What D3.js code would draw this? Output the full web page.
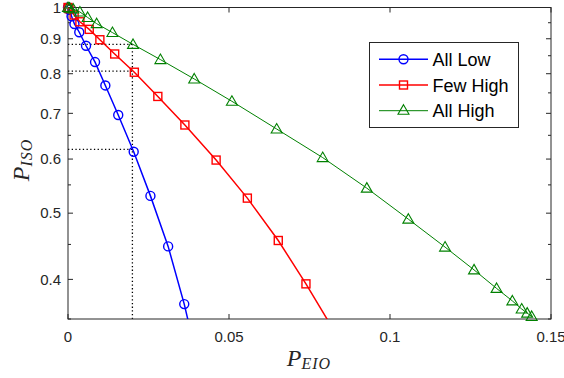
<!DOCTYPE html>
<html><head><meta charset="utf-8">
<script src="https://cdn.jsdelivr.net/npm/d3@7"></script>
<style>body{margin:0;background:#fff}</style>
</head><body>
<svg id="c" width="564" height="378"></svg>
<script>
const seriesNames = ["All Low", "Few High", "All High"];
const allLowX = [0, 0.0004, 0.0011, 0.0020, 0.0035, 0.0056, 0.0084, 0.0116, 0.0156, 0.0204, 0.0256, 0.0311, 0.0361, 0.0405];
const allLowY = [1.0, 0.992, 0.971, 0.946, 0.920, 0.879, 0.832, 0.769, 0.696, 0.615, 0.530, 0.447, 0.368, 0.300];
const fewHighX = [0, 0.0003, 0.0019, 0.0037, 0.0066, 0.0099, 0.0145, 0.0206, 0.0279, 0.0363, 0.0460, 0.0557, 0.0653, 0.0739, 0.0814];
const fewHighY = [1.0, 0.996, 0.975, 0.953, 0.929, 0.897, 0.855, 0.804, 0.741, 0.673, 0.598, 0.526, 0.456, 0.394, 0.344];
const allHighX = [0, 0.0005, 0.0016, 0.0037, 0.0061, 0.0089, 0.0138, 0.0202, 0.0287, 0.0392, 0.0509, 0.0648, 0.0791, 0.0928, 0.1057, 0.1171, 0.1261, 0.1331, 0.1380, 0.1409, 0.1426, 0.1440];
const allHighY = [1.0, 0.998, 0.995, 0.985, 0.967, 0.947, 0.919, 0.883, 0.839, 0.786, 0.729, 0.664, 0.603, 0.544, 0.490, 0.446, 0.413, 0.388, 0.372, 0.362, 0.357, 0.353];
const xTicks = [0, 0.05, 0.1, 0.15];
const xTickLabels = ["0", "0.05", "0.1", "0.15"];
const yTicks = [0.4, 0.5, 0.6, 0.7, 0.8, 0.9, 1];
const yTickLabels = ["0.4", "0.5", "0.6", "0.7", "0.8", "0.9", "1"];
const yMinorTicks = [0.35, 0.45, 0.55, 0.65, 0.75, 0.85, 0.95];
const refX = 0.02;
const refY = [0.883, 0.807, 0.62];

const L = 68, R = 551, T = 7.5, B = 319;
const svg = d3.select("#c");
const x = d3.scaleLinear().domain([0, 0.15]).range([L, R]);
const y = d3.scaleLog().domain([0.35, 1]).range([B, T]);
const axisCol = "#262626";
const tickFont = "Liberation Sans, Arial, Helvetica, sans-serif";

svg.append("defs").append("clipPath").attr("id", "pa")
  .append("rect").attr("x", L).attr("y", T).attr("width", R - L).attr("height", B - T);

// dotted guides
const g0 = svg.append("g").attr("stroke", "#000").attr("stroke-width", 1.3)
  .attr("stroke-dasharray", "1.3,2.4").attr("fill", "none");
g0.append("line").attr("x1", x(refX)).attr("x2", x(refX)).attr("y1", y(0.35)).attr("y2", y(d3.max(refY)));
refY.forEach(v => g0.append("line").attr("x1", x(0)).attr("x2", x(refX)).attr("y1", y(v)).attr("y2", y(v)));

// axes box
const box = svg.append("g");
box.append("rect").attr("x", L).attr("y", T).attr("width", R - L).attr("height", B - T)
  .attr("fill", "none").attr("stroke", axisCol).attr("stroke-width", 1);

// ticks (inward, mirrored)
const tk = svg.append("g").attr("stroke", axisCol).attr("stroke-width", 1);
xTicks.forEach(v => {
  tk.append("line").attr("x1", x(v)).attr("x2", x(v)).attr("y1", B).attr("y2", B - 5);
  tk.append("line").attr("x1", x(v)).attr("x2", x(v)).attr("y1", T).attr("y2", T + 5);
});
yTicks.forEach(v => {
  tk.append("line").attr("x1", L).attr("x2", L + 5).attr("y1", y(v)).attr("y2", y(v));
  tk.append("line").attr("x1", R).attr("x2", R - 5).attr("y1", y(v)).attr("y2", y(v));
});
yMinorTicks.forEach(v => {
  tk.append("line").attr("x1", L).attr("x2", L + 3).attr("y1", y(v)).attr("y2", y(v));
  tk.append("line").attr("x1", R).attr("x2", R - 3).attr("y1", y(v)).attr("y2", y(v));
});

// tick labels
const tl = svg.append("g").attr("fill", axisCol).attr("font-family", tickFont).attr("font-size", 15);
xTicks.forEach((v, i) => tl.append("text").attr("x", x(v)).attr("y", 342).attr("text-anchor", "middle").text(xTickLabels[i]));
yTicks.forEach((v, i) => tl.append("text").attr("x", L - 7).attr("y", y(v) + 5.3).attr("text-anchor", "end").text(yTickLabels[i]));

// axis labels
const serif = "Liberation Serif, Times New Roman, serif";
const xl = svg.append("text").attr("x", 309).attr("y", 366).attr("text-anchor", "middle")
  .attr("font-family", serif).attr("font-style", "italic").attr("fill", axisCol);
xl.append("tspan").attr("font-size", 24).text("P");
xl.append("tspan").attr("font-size", 16).attr("dy", 3).attr("letter-spacing", 1).text("EIO");
const yl = svg.append("text").attr("transform", "translate(29,160) rotate(-90)").attr("text-anchor", "middle")
  .attr("font-family", serif).attr("font-style", "italic").attr("fill", axisCol);
yl.append("tspan").attr("font-size", 24).text("P");
yl.append("tspan").attr("font-size", 16).attr("dy", 3).attr("letter-spacing", 1).text("ISO");

// series
const series = [
  {name: seriesNames[0], xs: allLowX, ys: allLowY, color: "#0000ff", w: 1.5, marker: "circle"},
  {name: seriesNames[1], xs: fewHighX, ys: fewHighY, color: "#ff0000", w: 1.5, marker: "square"},
  {name: seriesNames[2], xs: allHighX, ys: allHighY, color: "#008000", w: 1, marker: "triangle"}
];
function drawMarker(g, type, cx, cy, color) {
  if (type === "circle") {
    g.append("circle").attr("cx", cx).attr("cy", cy).attr("r", 4.5)
      .attr("fill", "none").attr("stroke", color).attr("stroke-width", 1.4);
  } else if (type === "square") {
    g.append("rect").attr("x", cx - 4).attr("y", cy - 4).attr("width", 8).attr("height", 8)
      .attr("fill", "none").attr("stroke", color).attr("stroke-width", 1.4);
  } else {
    g.append("path").attr("d", `M${cx},${cy - 5.5}L${cx + 5.5},${cy + 4}L${cx - 5.5},${cy + 4}Z`)
      .attr("fill", "none").attr("stroke", color).attr("stroke-width", 1.1);
  }
}
const line = d3.line().x(d => x(d[0])).y(d => y(d[1]));
series.forEach(s => {
  const pts = s.xs.map((v, i) => [v, s.ys[i]]);
  svg.append("path").datum(pts).attr("d", line).attr("fill", "none")
    .attr("stroke", s.color).attr("stroke-width", s.w).attr("clip-path", "url(#pa)");
  const mg = svg.append("g");
  pts.filter(p => p[1] >= 0.35).forEach(p => drawMarker(mg, s.marker, x(p[0]), y(p[1]), s.color));
});

// legend
const lg = svg.append("g");
lg.append("rect").attr("x", 369.5).attr("y", 42.5).attr("width", 149).attr("height", 85)
  .attr("fill", "#fff").attr("stroke", axisCol).attr("stroke-width", 1);
const legY = [59.3, 85, 110.7];
series.forEach((s, i) => {
  lg.append("line").attr("x1", 379).attr("x2", 428).attr("y1", legY[i]).attr("y2", legY[i])
    .attr("stroke", s.color).attr("stroke-width", s.w);
  drawMarker(lg, s.marker, 403.5, legY[i] + (s.marker === "triangle" ? -0.5 : 0), s.color);
  lg.append("text").attr("x", 432.5).attr("y", legY[i] + 6.5).attr("font-family", tickFont)
    .attr("font-size", 18).attr("fill", "#000").text(s.name);
});
</script>
</body></html>
